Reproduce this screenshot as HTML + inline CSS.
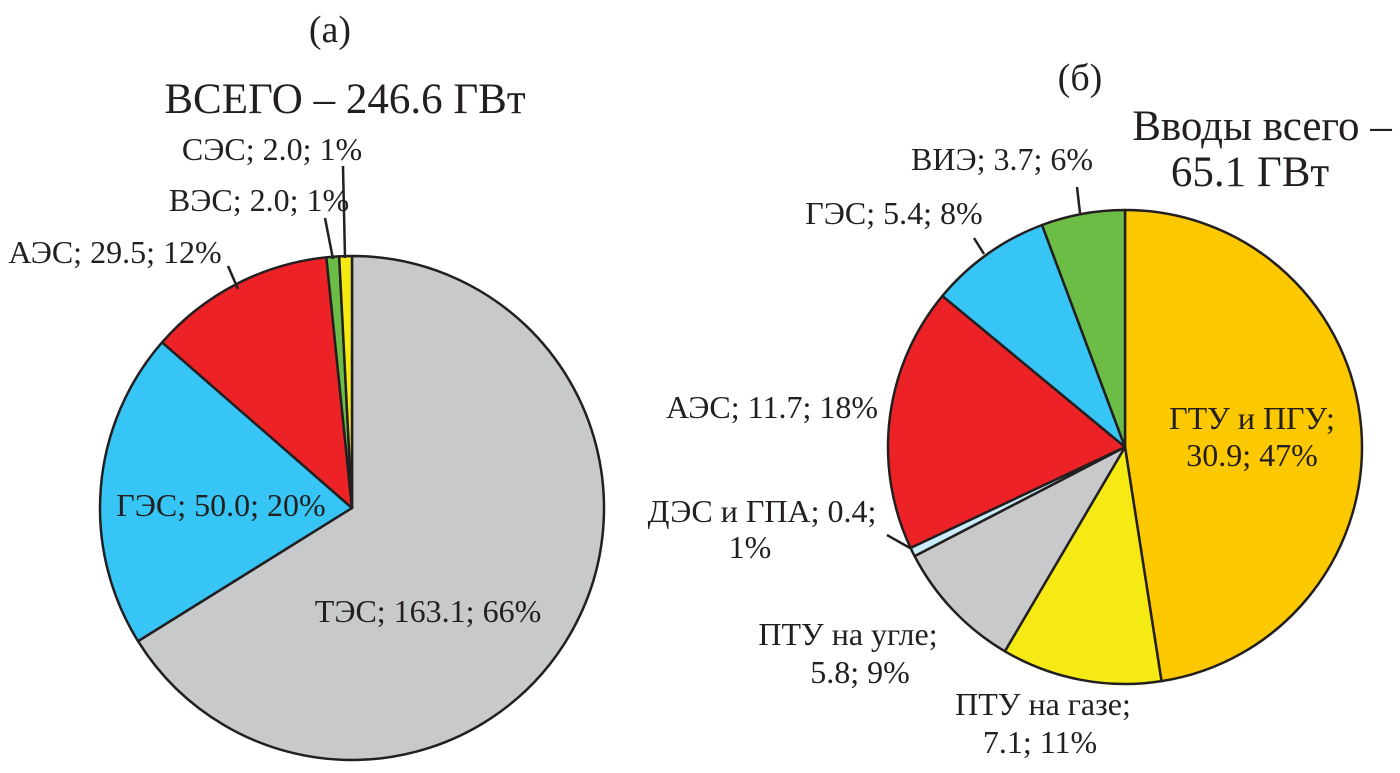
<!DOCTYPE html>
<html><head><meta charset="utf-8"><style>
body{margin:0;background:#fff}
svg text{font-family:"Liberation Serif",serif;fill:#231f20}
</style></head><body>
<svg id="chart" width="1400" height="768" viewBox="0 0 1400 768" xmlns="http://www.w3.org/2000/svg">
<g id="pieA"></g>
<g id="pieB"></g>
<g font-size="32">
<text x="330" y="42" font-size="38" text-anchor="middle">(а)</text>
<text x="345" y="113" font-size="43" text-anchor="middle">ВСЕГО – 246.6 ГВт</text>
<text x="272" y="160" text-anchor="middle">СЭС; 2.0; 1%</text>
<text x="259" y="211" text-anchor="middle">ВЭС; 2.0; 1%</text>
<text x="115" y="263" text-anchor="middle">АЭС; 29.5; 12%</text>
<text x="221" y="516" text-anchor="middle">ГЭС; 50.0; 20%</text>
<text x="428" y="622" text-anchor="middle">ТЭС; 163.1; 66%</text>
<text x="1080" y="90" font-size="38" text-anchor="middle">(б)</text>
<text x="1262" y="140" font-size="43" text-anchor="middle">Вводы всего –</text>
<text x="1250" y="186" font-size="43" text-anchor="middle">65.1 ГВт</text>
<text x="1002" y="170" text-anchor="middle">ВИЭ; 3.7; 6%</text>
<text x="894" y="224" text-anchor="middle">ГЭС; 5.4; 8%</text>
<text x="772" y="418" text-anchor="middle">АЭС; 11.7; 18%</text>
<text x="1252" y="429" text-anchor="middle">ГТУ и ПГУ;</text>
<text x="1252" y="466" text-anchor="middle">30.9; 47%</text>
<text x="762" y="522" text-anchor="middle">ДЭС и ГПА; 0.4;</text>
<text x="750" y="558" text-anchor="middle">1%</text>
<text x="848" y="645" text-anchor="middle">ПТУ на угле;</text>
<text x="860" y="683" text-anchor="middle">5.8; 9%</text>
<text x="1043" y="715" text-anchor="middle">ПТУ на газе;</text>
<text x="1040" y="753" text-anchor="middle">7.1; 11%</text>
</g>
<g stroke="#231f20" stroke-width="2.5">
<line x1="343" y1="166" x2="345" y2="258"/>
<line x1="325" y1="218" x2="333" y2="259"/>
<line x1="228" y1="266" x2="238" y2="289"/>
<line x1="1077" y1="187" x2="1080" y2="213"/>
<line x1="974" y1="238" x2="984" y2="254"/>
<line x1="887" y1="535" x2="910" y2="548"/>
</g>
</svg>
<script>
const catsA = ["ТЭС","ГЭС","АЭС","ВЭС","СЭС"];
const valsA = [163.1, 50.0, 29.5, 2.0, 2.0];
const colsA = ["#c8c9cb","#36c5f4","#ec2227","#6cbd45","#f5ea14"];
const catsB = ["ГТУ и ПГУ","ПТУ на газе","ПТУ на угле","ДЭС и ГПА","АЭС","ГЭС","ВИЭ"];
const valsB = [30.9, 7.1, 5.8, 0.4, 11.7, 5.4, 3.7];
const colsB = ["#fcc800","#f5ea14","#c8c9cb","#c9eef9","#ec2227","#36c5f4","#6cbd45"];
const NS="http://www.w3.org/2000/svg";
function drawPie(g, cats, vals, cols, cx, cy, r){
  const tot = vals.reduce((a,b)=>a+b,0);
  let a0=0;
  vals.forEach((v,i)=>{
    const a1=a0+v/tot*2*Math.PI;
    const x0=cx+r*Math.sin(a0), y0=cy-r*Math.cos(a0);
    const x1=cx+r*Math.sin(a1), y1=cy-r*Math.cos(a1);
    const large=(a1-a0)>Math.PI?1:0;
    const p=document.createElementNS(NS,"path");
    p.setAttribute("d",`M${cx},${cy} L${x0},${y0} A${r},${r} 0 ${large} 1 ${x1},${y1} Z`);
    p.setAttribute("fill",cols[i]);
    p.setAttribute("stroke","#231f20");
    p.setAttribute("stroke-width","2.5");
    p.setAttribute("stroke-linejoin","round");
    
    
    g.appendChild(p);
    a0=a1;
  });
}
drawPie(document.getElementById("pieA"), catsA, valsA, colsA, 352, 508, 252);
drawPie(document.getElementById("pieB"), catsB, valsB, colsB, 1125, 447, 237);
</script>
</body></html>
